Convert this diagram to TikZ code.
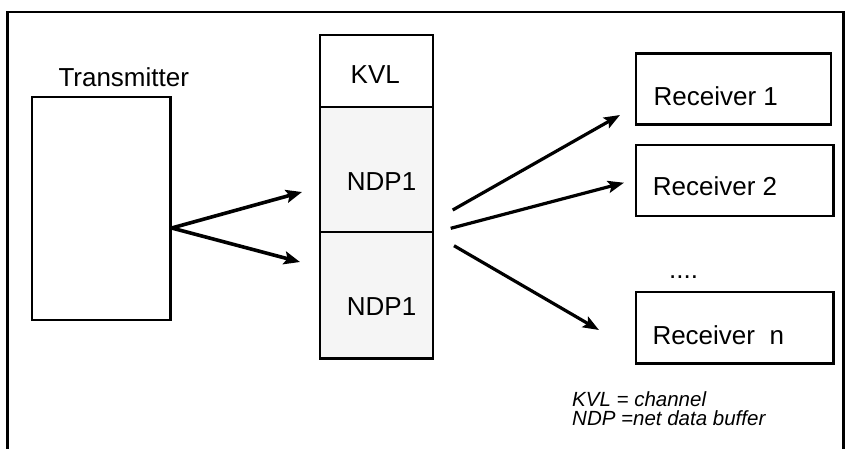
\documentclass[tikz,border=0pt]{standalone}
\usepackage{fontspec}
\setmainfont{Liberation Sans}
\usetikzlibrary{arrows.meta}
\begin{document}
\begin{tikzpicture}[x=1pt,y=-1pt,
  box/.style={draw=black,line width=2.4pt,fill=white},
  cellw/.style={draw=black,line width=2.4pt,fill=white},
  cellg/.style={draw=black,line width=2.4pt,fill=gray!8},
  lbl/.style={anchor=base west,inner sep=0pt,font=\fontsize{26}{30}\selectfont},
  legend/.style={anchor=base west,inner sep=0pt,font=\fontsize{20.5}{23}\selectfont\itshape},
  arr/.style={line width=3.6pt,-{Stealth[length=16pt,width=13pt,inset=3pt]}},
  arrb/.style={line width=3.2pt,-{Stealth[length=16pt,width=12pt,inset=3pt]}}]
\useasboundingbox (0,0) rectangle (848,448);
% outer frame (bottom edge lies outside the picture)
\draw[line width=2.4pt] (7.5,452) -- (7.5,11.7) -- (843.5,11.7) -- (843.5,452);
% transmitter
\draw[box] (31.7,96.7) rectangle (170.5,320) node[pos=0,inner sep=0pt] (tx) {};
\node[lbl] (txl) at (58.3,86) {Transmitter};
% middle column
\draw[cellw] (320,35) rectangle (432.7,107) node[pos=0,inner sep=0pt] (kvl) {};
\draw[cellg] (320,107) rectangle (432.7,231.7) node[pos=0,inner sep=0pt] (ndpa) {};
\draw[cellg] (320,231.7) rectangle (432.7,358.3) node[pos=0,inner sep=0pt] (ndpb) {};
\node[lbl] (kvll) at (350.5,83) {KVL};
\node[lbl] (ndpal) at (346.7,190) {NDP1};
\node[lbl] (ndpbl) at (346.7,315) {NDP1};
% receivers
\draw[box] (636,53.3) rectangle (830.7,124.3) node[pos=0,inner sep=0pt] (r1) {};
\draw[box] (636,145) rectangle (833.3,216) node[pos=0,inner sep=0pt] (r2) {};
\draw[box] (636,291.7) rectangle (833.3,363.3) node[pos=0,inner sep=0pt] (rn) {};
\node[lbl] (r1l) at (653.5,105) {Receiver 1};
\node[lbl] (r2l) at (652.7,195) {Receiver 2};
\node[lbl] (rnl) at (652.3,344) {Receiver\ \ n};
\node[lbl] (dots) at (669,278) {....};
% legend
\node[legend] (lg1) at (572,406.2) {KVL = channel};
\node[legend] (lg2) at (572,425.5) {NDP =net data buffer};
% connector coordinates
\coordinate (ts) at (171.7,228);
\coordinate (ta) at (302,192);
\coordinate (tb) at (300,262);
\coordinate (s1) at (452.7,210);
\coordinate (e1) at (620,115);
\coordinate (s2) at (450.7,228.3);
\coordinate (e2) at (624,182.7);
\coordinate (s3) at (454,245.7);
\coordinate (e3) at (599,330);
\draw[arr] (ts) -- (ta);
\draw[arr] (ts) -- (tb);
\draw[arrb] (s1) -- (e1);
\draw[arrb] (s2) -- (e2);
\draw[arrb] (s3) -- (e3);
\end{tikzpicture}
\end{document}
